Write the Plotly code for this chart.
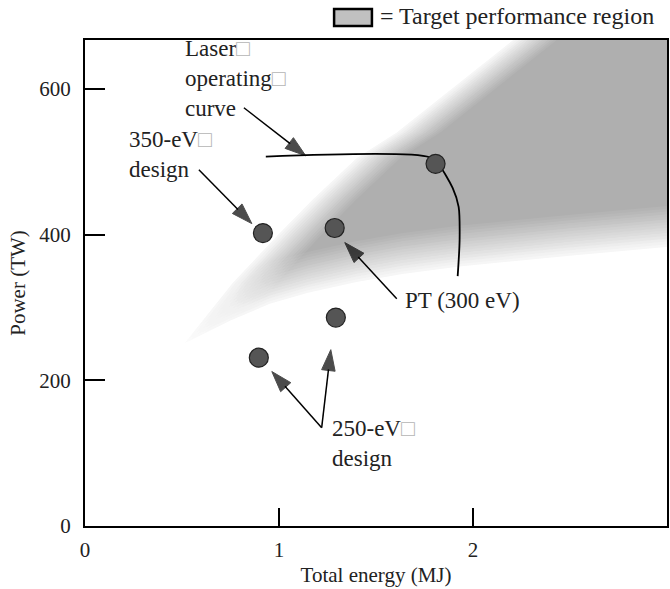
import plotly.graph_objects as go

# design points (MJ, TW)
POINT_ENERGY = [0.917, 1.287, 1.807, 1.293, 0.896]
POINT_POWER = [402, 409, 497, 286, 231]

# laser operating curve
LASER_ENERGY = [0.932, 1.777, 1.828, 1.895, 1.926, 1.931, 1.921]
LASER_POWER = [507, 506, 494, 464, 438, 393, 343]

# outer (white-side) edges of the target performance region
UPPER_EDGE_ENERGY = [0.515, 0.762, 1.004, 1.174, 1.401, 1.607, 2.188, 2.36]
UPPER_EDGE_POWER = [251, 334, 402, 448, 505, 540, 663, 700]
LOWER_EDGE_ENERGY = [0.515, 0.75, 0.953, 1.15, 1.4, 1.637, 1.931, 2.5, 2.997, 3.2]
LOWER_EDGE_POWER = [251, 282, 305, 320, 335, 346, 356, 371, 383, 388]

# label arrows: tail (dot) -> tip (head)
ARROW_TAIL_X = [0.819, 0.587, 1.607, 1.22, 1.22]
ARROW_TAIL_Y = [574, 489, 312, 135, 135]
ARROW_TIP_X = [1.138, 0.86, 1.339, 0.963, 1.267]
ARROW_TIP_Y = [508, 415, 389, 212, 242]

LABEL_TEXT = ["Laser□<br>operating□<br>curve", "350-eV□<br>design", "PT (300 eV)", "250-eV□<br>design"]
LABEL_X = [0.505, 0.218, 1.637, 1.262]
LABEL_Y = [614, 510, 310, 113]

X_TICKS = [0, 1, 2, 3]
Y_TICKS = [0, 200, 400, 600]

FONT = "Liberation Serif, serif"
TEXT_COLOR = "#222222"
REGION_GRAY = "#afafaf"
FADE_ENERGY = 0.24
FADE_POWER = 60
N_LAYERS = 16

fig = go.Figure()

# full gray wedge
fig.add_trace(go.Scatter(
    x=UPPER_EDGE_ENERGY + [3.2] + LOWER_EDGE_ENERGY[::-1],
    y=UPPER_EDGE_POWER + [700] + LOWER_EDGE_POWER[::-1],
    fill="toself", fillcolor=REGION_GRAY, mode="none",
    hoverinfo="skip", showlegend=False,
))

# soft edges: stacked white layers, linear fade
for k in range(N_LAYERS):
    t = k / N_LAYERS
    alpha = 1 / (k + 1)
    fig.add_trace(go.Scatter(
        x=[e + t * FADE_ENERGY for e in UPPER_EDGE_ENERGY] + [-1, -1],
        y=UPPER_EDGE_POWER + [700, -50],
        fill="toself", fillcolor=f"rgba(255,255,255,{alpha:.4f})", mode="none",
        hoverinfo="skip", showlegend=False,
    ))
    fig.add_trace(go.Scatter(
        x=[-1] + LOWER_EDGE_ENERGY + [3.3, -1],
        y=[LOWER_EDGE_POWER[0] + t * FADE_POWER] + [p + t * FADE_POWER for p in LOWER_EDGE_POWER] + [-50, -50],
        fill="toself", fillcolor=f"rgba(255,255,255,{alpha:.4f})", mode="none",
        hoverinfo="skip", showlegend=False,
    ))

fig.add_trace(go.Scatter(
    x=LASER_ENERGY, y=LASER_POWER, mode="lines",
    line={"color": "black", "width": 1.8, "shape": "spline", "smoothing": 0.8},
    hoverinfo="skip", showlegend=False,
))

fig.add_trace(go.Scatter(
    x=POINT_ENERGY, y=POINT_POWER, mode="markers",
    marker={"size": 19, "color": "#555555", "line": {"color": "#222222", "width": 1.2}},
    showlegend=False,
))

for tx, ty, hx, hy in zip(ARROW_TAIL_X, ARROW_TAIL_Y, ARROW_TIP_X, ARROW_TIP_Y):
    fig.add_trace(go.Scatter(
        x=[tx, hx], y=[ty, hy], mode="lines+markers",
        line={"color": "black", "width": 1.5},
        marker={"symbol": ["circle", "arrow"], "size": [6, 22], "color": "black",
                "angleref": "previous", "line": {"color": "black", "width": 1}},
        hoverinfo="skip", showlegend=False,
    ))

for text, lx, ly in zip(LABEL_TEXT, LABEL_X, LABEL_Y):
    fig.add_annotation(
        x=lx, y=ly, text=text.replace("□", "<span style='color:#b5b5b5'>□</span>"),
        showarrow=False, xanchor="left", yanchor="middle", align="left",
        font={"family": FONT, "size": 23, "color": TEXT_COLOR},
    )

# key at the top
fig.add_shape(type="rect", xref="paper", yref="paper",
              x0=0.428, x1=0.493, y0=1.029, y1=1.064,
              fillcolor="#c0c0c0", line={"color": "black", "width": 2.5})
fig.add_annotation(
    xref="paper", yref="paper", x=0.503, y=1.05, text="= Target performance region",
    showarrow=False, xanchor="left", yanchor="middle",
    font={"family": FONT, "size": 24, "color": TEXT_COLOR},
)

axis_common = dict(
    showline=True, linecolor="black", linewidth=2, mirror=True, automargin=False,
    showgrid=False, zeroline=False, ticks="inside", tickcolor="black", tickwidth=1.5,
    tickfont={"family": FONT, "size": 21, "color": TEXT_COLOR},
)
fig.update_xaxes(
    range=[0, 3], tickvals=X_TICKS, ticklen=18, ticklabelstandoff=4,
    title={"text": "Total energy (MJ)", "font": {"family": FONT, "size": 21, "color": TEXT_COLOR}, "standoff": 6},
    **axis_common,
)
fig.update_yaxes(
    range=[0, 667], tickvals=Y_TICKS, ticklen=20, ticklabelstandoff=8,
    title={"text": "Power (TW)", "font": {"family": FONT, "size": 21, "color": TEXT_COLOR}, "standoff": 8},
    **axis_common,
)
fig.update_layout(
    width=670, height=589,
    margin={"l": 85, "r": 3, "t": 40, "b": 63},
    plot_bgcolor="white", paper_bgcolor="white",
    showlegend=False,
)

fig.write_html("out.html", config={"displayModeBar": False},
               post_script="document.body.style.margin='0';")
